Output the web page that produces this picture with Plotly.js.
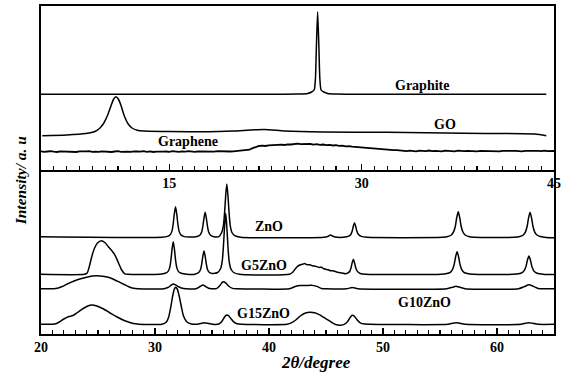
<!DOCTYPE html>
<html>
<head>
<meta charset="utf-8">
<script src="https://cdn.plot.ly/plotly-3.0.1.min.js"></script>
<style>html,body{margin:0;padding:0;background:#fff;}#chart{width:563px;height:373px;}</style>
</head>
<body>
<div id="chart"></div>
<script>
// ---------- Top panel (x: 5..45) ----------
var graphiteX = [5, 20, 25, 25.8, 26.1, 26.3, 26.4, 26.47, 26.57, 26.67, 26.74, 26.84, 27.05, 27.35, 28, 35, 44.4];
var graphiteY = [75.7, 75.8, 76, 76.6, 78, 80, 92, 122, 158.3, 122, 92, 80, 78, 76.6, 76, 75.8, 75.8];

var goX = [5.1, 7, 8.5, 9.2, 9.6, 9.9, 10.2, 10.45, 10.65, 10.84, 11.05, 11.25, 11.5, 11.8, 12.1, 12.5, 13, 15, 18, 20, 22.4, 24, 27, 32, 38, 43.5, 44.4];
var goY = [34.3, 35, 36.5, 38.5, 42, 47, 55, 64, 70.5, 73.3, 70.5, 64, 54, 46, 42, 39.8, 39, 38.5, 38.3, 39, 40.5, 39, 38, 37.7, 36.7, 36, 34.3];

var grapheneX0 = 5, grapheneDX = 0.25;
var grapheneY = [
 18.6,18.1,18.5,18.9,18.3,18.0,18.6,18.4,18.8,18.2,
 18.5,18.0,18.7,18.3,18.6,18.9,18.2,18.4,18.1,18.7,
 18.3,18.6,18.0,18.5,18.8,18.2,18.6,18.4,18.1,18.7,
 18.5,18.3,18.9,18.2,18.6,18.0,18.4,18.7,18.3,18.5,
 18.1,18.8,18.4,18.2,18.6,18.3,18.9,18.5,18.1,18.6,
 18.4,18.7,18.2,18.5,18.3,18.8,18.6,18.4,18.9,18.5,
 18.7,19.0,18.8,19.2,19.5,
 20.3,21.8,23.2,24.0,
 24.3,24.0,24.6,24.9,24.5,25.1,25.4,25.0,25.7,25.5,26.0,26.3,25.9,
 26.1,25.6,26.0,25.4,25.8,25.2,25.5,24.8,25.1,24.5,
 24.8,24.2,24.4,23.7,23.9,23.3,23.0,22.6,22.8,22.1,
 21.8,21.9,21.3,21.0,20.8,20.4,20.6,20.0,19.8,19.9,19.5,
 19.2,18.8,19.4,19.0,18.7,19.3,19.1,18.9,19.5,18.8,
 19.2,19.0,18.6,19.3,18.9,19.1,18.7,19.4,19.0,18.8,
 19.2,18.9,19.3,18.7,19.1,19.0,18.8,19.4,18.9,19.2,
 18.7,19.1,19.3,18.8,19.0,19.2,18.9,18.6,19.1,19.3,
 18.8,19.0,19.2,18.9,19.4,18.8,19.1,19.0];

// ---------- Bottom panel (x: 20..65) ----------
var znoX = [20, 30.6, 31.1, 31.35, 31.5, 31.6, 31.7, 31.8, 31.9, 32.0, 32.1, 32.25, 32.5, 33.0,
  33.7, 33.95, 34.1, 34.2, 34.3, 34.4, 34.5, 34.6, 34.7, 34.85, 35.1,
  35.6, 35.85, 36.0, 36.1, 36.2, 36.3, 36.4, 36.5, 36.6, 36.75, 37.0, 37.5,
  44.8, 45.2, 45.4, 45.6, 46.0,
  46.5, 47.0, 47.2, 47.3, 47.4, 47.5, 47.6, 47.7, 47.85, 48.1, 48.6,
  55.2, 55.7, 56.0, 56.2, 56.35, 56.47, 56.6, 56.73, 56.85, 57.0, 57.2, 57.5, 58.0,
  61.5, 62.0, 62.3, 62.5, 62.65, 62.77, 62.9, 63.03, 63.15, 63.3, 63.5, 63.8, 64.3, 65];
var znoY = [97.3, 96.7, 97.6, 99.5, 103.4, 110.5, 120.6, 127.3, 120.6, 110.5, 103.4, 99.5, 97.6, 96.9,
  97.5, 99, 102.2, 108, 116.2, 121.7, 116.2, 108, 102.2, 99, 97.6,
  97.4, 101.5, 108.4, 120.7, 138.3, 150, 138.3, 120.7, 108.4, 101.5, 98.3, 96.8,
  96.7, 97.8, 99, 97.8, 96.7,
  96.7, 97.8, 100, 103, 108, 111.3, 108, 103, 99.5, 97.6, 96.7,
  96.7, 97.5, 99, 102.3, 108, 116.5, 122.3, 116.5, 108, 102.3, 99, 97.5, 96.7,
  96.7, 97.5, 99, 102.2, 108, 116.2, 121.7, 116.2, 108, 102.2, 99, 97.5, 96.5, 96.3];

var g5X = [20, 23.8, 24.05, 24.25, 24.45, 24.7, 24.95, 25.3, 25.6, 25.9, 26.2, 26.5, 26.8, 27.05, 27.35, 27.6,
  30.4, 30.9, 31.15, 31.3, 31.4, 31.5, 31.6, 31.7, 31.8, 31.9, 32.05, 32.3, 32.8,
  33.5, 33.85, 34.0, 34.1, 34.2, 34.3, 34.4, 34.5, 34.6, 34.75, 35.0,
  35.5, 35.75, 35.9, 36.0, 36.1, 36.2, 36.3, 36.4, 36.5, 36.65, 36.9, 37.4,
  41.8, 42.1, 42.4, 42.7, 43.0, 43.15, 43.3, 43.6, 43.8, 44.0, 44.4, 44.6, 44.8, 45.2, 45.4, 45.6, 46.0, 46.4, 46.7,
  46.9, 47.1, 47.2, 47.3, 47.4, 47.5, 47.6, 47.75, 48.0, 48.5,
  55.1, 55.6, 55.9, 56.1, 56.25, 56.37, 56.5, 56.63, 56.75, 56.9, 57.1, 57.4, 57.9,
  61.4, 61.9, 62.2, 62.4, 62.55, 62.67, 62.8, 62.93, 63.05, 63.2, 63.4, 63.7, 64.2, 65];
var g5Y = [59.7, 59.7, 61, 68, 77.3, 86, 91, 93.3, 91.5, 87.3, 83.5, 78.7, 71, 64.5, 60.2, 59.7,
  59.7, 60.7, 62.6, 66.9, 74.4, 85.1, 92.3, 85.1, 74.4, 66.9, 62.6, 60.7, 59.7,
  59.8, 61.8, 64.8, 70.2, 77.9, 83, 77.9, 70.2, 64.8, 61.8, 60.4,
  61.5, 65.2, 73.1, 87.2, 107.3, 120.7, 107.3, 87.2, 73.1, 65.2, 61.5, 59.7,
  59.7, 62, 66.5, 69, 70, 70.5, 69.4, 69.2, 68.2, 68.0, 66.6, 66.8, 65.2, 64.2, 63.2, 63.3, 61.8, 61, 60.2,
  60.8, 63, 66.5, 71.4, 74.7, 71.4, 66.5, 62.6, 60.5, 59.7,
  59.7, 60.4, 61.7, 64.7, 69.9, 77.3, 82.3, 77.3, 69.9, 64.7, 61.7, 60.4, 59.7,
  59.7, 60.2, 61.3, 63.7, 67.9, 74, 78, 74, 67.9, 63.7, 61.3, 60.2, 59.6, 59.4];

var g10X = [20, 21.3, 21.8, 22.3, 22.8, 23.4, 24.0, 24.5, 24.9, 25.4, 25.9, 26.4, 26.8, 27.3, 27.7, 28.1, 28.5,
  30.8, 31.2, 31.45, 31.6, 31.8, 32.1, 32.5,
  33.6, 33.95, 34.2, 34.45, 34.8,
  35.4, 35.7, 35.9, 36.0, 36.2, 36.45, 36.8, 37.2,
  41.8, 42.3, 42.7, 43.2, 43.7, 44.2, 44.6, 45,
  46.8, 47.3, 47.8,
  55.6, 56.1, 56.4, 56.7, 57.2,
  61.9, 62.4, 62.8, 63.2, 63.6, 64.0, 65];
var g10Y = [45.3, 45.4, 47.2, 50, 52.5, 55, 56.8, 57.9, 58.3, 57.8, 56.7, 54.5, 52.3, 49.5, 47.3, 45.8, 45.3,
  45.3, 46.8, 49.2, 50, 49.2, 47, 45.4,
  45.3, 47.5, 49, 47.5, 45.4,
  45.4, 48.5, 51.6, 52.3, 51.2, 48, 45.6, 45.3,
  45.3, 47.5, 48.6, 48.4, 48.7, 47.6, 45.6, 45.3,
  45.3, 46.4, 45.3,
  45.3, 46.8, 47.7, 46.9, 45.3,
  45.3, 47.4, 49.3, 47.6, 45.6, 45.2, 45.2];

var g15X = [20, 21.0, 21.3, 21.6, 22.0, 22.4, 22.8, 23.2, 23.7, 24.1, 24.45, 24.9, 25.4, 26.0, 26.6, 27.3, 28.0, 28.6,
  30.6, 31.0, 31.2, 31.4, 31.55, 31.7, 31.8, 31.95, 32.1, 32.3, 32.5, 32.8, 33.2, 33.7,
  34.0, 34.3, 34.7, 35.2,
  35.6, 35.85, 36.05, 36.2, 36.3, 36.45, 36.65, 36.9, 37.2, 37.6,
  41.6, 42.0, 42.4, 42.8, 43.2, 43.6, 44.0, 44.5, 45.0, 45.5, 45.9, 46.3,
  46.6, 46.9, 47.1, 47.3, 47.5, 47.7, 48.0, 48.4, 48.8,
  55.7, 56.1, 56.4, 56.7, 57.2,
  62.1, 62.5, 62.8, 63.1, 63.6, 65];
var g15Y = [9.7, 9.7, 10.2, 12, 15, 17.3, 18.5, 21.5, 25.5, 28, 29, 28, 25.5, 21.5, 17.5, 13.5, 10.8, 9.8,
  9.7, 12, 17, 28, 38, 45, 46.7, 45, 39, 28, 18, 12, 10, 9.8,
  10.4, 11.3, 10.6, 9.6,
  10, 12.3, 16, 18.4, 19, 18.3, 15.5, 12.2, 10.3, 9.7,
  9.7, 11.3, 14.5, 18.5, 21, 21.7, 21.2, 18.8, 15.2, 11.6, 9.2, 8.8,
  9.6, 12.5, 16.3, 18.7, 17.6, 14.6, 11.2, 9.9, 9.7,
  9.7, 10.7, 11.3, 10.8, 9.7,
  9.7, 10.8, 11.3, 10.8, 9.7, 9.7];

// ---------- Labels ----------
var topLabels = [
  {text: 'Graphite', x: 34.7, y: 85},
  {text: 'GO', x: 36.5, y: 46},
  {text: 'Graphene', x: 16.5, y: 28.3}
];
var bottomLabels = [
  {text: 'ZnO', x: 40.0, y: 107.3},
  {text: 'G5ZnO', x: 39.6, y: 68.7},
  {text: 'G10ZnO', x: 53.6, y: 32},
  {text: 'G15ZnO', x: 39.5, y: 20.3}
];
var topTickStart = 0, topTickStep = 15;
var bottomTickStart = 20, bottomTickStep = 10;

var FONT = 'Liberation Serif, Times New Roman, serif';
var lineStyle = {color: '#000', width: 1.5, shape: 'spline', smoothing: 0.6};

function tr(x, y, xa, ya) {
  return {type: 'scatter', mode: 'lines', x: x, y: y, xaxis: xa, yaxis: ya,
          line: lineStyle, hoverinfo: 'skip'};
}

var data = [
  tr(graphiteX, graphiteY, 'x2', 'y2'),
  tr(goX, goY, 'x2', 'y2'),
  {type: 'scatter', mode: 'lines', x0: grapheneX0, dx: grapheneDX, y: grapheneY,
   xaxis: 'x2', yaxis: 'y2', line: {color: '#000', width: 1.8}, hoverinfo: 'skip'},
  tr(znoX, znoY, 'x', 'y'),
  tr(g5X, g5Y, 'x', 'y'),
  tr(g10X, g10Y, 'x', 'y'),
  tr(g15X, g15Y, 'x', 'y')
];

var annotations = [];
topLabels.forEach(function (l) {
  annotations.push({text: l.text, x: l.x, y: l.y, xref: 'x2', yref: 'y2', showarrow: false,
    font: {family: FONT, size: 14, color: '#000', weight: 'bold'}});
});
bottomLabels.forEach(function (l) {
  annotations.push({text: l.text, x: l.x, y: l.y, xref: 'x', yref: 'y', showarrow: false,
    font: {family: FONT, size: 14, color: '#000', weight: 'bold'}});
});
annotations.push({text: 'Intensity/ a. u', xref: 'paper', yref: 'paper', x: -0.04, y: 0.47,
  xanchor: 'center', yanchor: 'middle', textangle: -90, showarrow: false,
  font: {family: FONT, size: 15.5, color: '#000', weight: 'bold', style: 'italic'}});
annotations.push({text: '2θ/degree', xref: 'paper', yref: 'paper', x: 0.536, y: -0.088,
  xanchor: 'center', yanchor: 'middle', showarrow: false,
  font: {family: FONT, size: 17, color: '#000', weight: 'bold', style: 'italic'}});

var tickFont = {family: FONT, size: 14, color: '#000', weight: 'bold'};
var layout = {
  width: 563, height: 373,
  margin: {l: 41, r: 9, t: 6, b: 39, pad: 0},
  paper_bgcolor: '#fff', plot_bgcolor: '#fff',
  showlegend: false,
  xaxis: {domain: [0, 1], anchor: 'y', range: [20, 65], tickmode: 'linear',
    tick0: bottomTickStart, dtick: bottomTickStep,
    ticks: 'inside', ticklen: 6, tickwidth: 1.2, tickcolor: '#000',
    minor: {tickmode: 'linear', tick0: 20, dtick: 1, ticks: 'inside', ticklen: 4, tickwidth: 1.1, tickcolor: '#000', showgrid: false},
    showline: true, linewidth: 1.6, linecolor: '#000', mirror: false,
    showgrid: false, zeroline: false, tickfont: tickFont},
  xaxis2: {domain: [0, 1], anchor: 'y2', range: [5, 45], tickmode: 'linear',
    tick0: topTickStart, dtick: topTickStep,
    ticks: 'inside', ticklen: 6, tickwidth: 1.2, tickcolor: '#000',
    minor: {tickmode: 'linear', tick0: 5, dtick: 1, ticks: 'inside', ticklen: 4, tickwidth: 1.1, tickcolor: '#000', showgrid: false},
    showline: true, linewidth: 1.6, linecolor: '#000', mirror: true,
    showgrid: false, zeroline: false, tickfont: tickFont},
  yaxis: {domain: [0, 0.5], anchor: 'x', range: [0, 164], showticklabels: false, ticks: '',
    showline: true, linewidth: 1.6, linecolor: '#000', mirror: true, showgrid: false, zeroline: false},
  yaxis2: {domain: [0.5, 1], anchor: 'x2', range: [0, 164], showticklabels: false, ticks: '',
    showline: true, linewidth: 1.6, linecolor: '#000', mirror: true, showgrid: false, zeroline: false},
  annotations: annotations
};

Plotly.newPlot('chart', data, layout, {displayModeBar: false, staticPlot: true});
</script>
</body>
</html>
